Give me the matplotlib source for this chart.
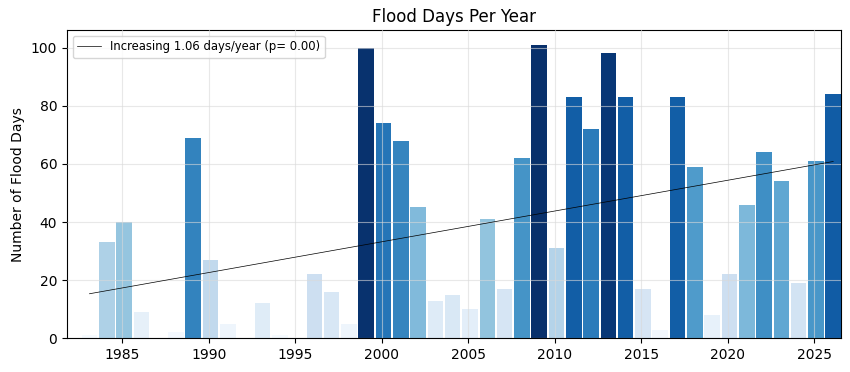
import numpy as np
import matplotlib
matplotlib.use("Agg")
import matplotlib.pyplot as plt

years = list(range(1983, 2027))
flood_days = [1, 33, 40, 9, 0, 2, 69, 27, 5, 0,
              12, 1, 0, 22, 16, 5, 100, 74, 68, 45,
              13, 15, 10, 41, 17, 62, 101, 31, 83, 72,
              98, 83, 17, 3, 83, 59, 8, 22, 46, 64,
              54, 19, 61, 84]
legend_label = "Increasing 1.06 days/year (p= 0.00)"
title = "Flood Days Per Year"
ylabel = "Number of Flood Days"

x = np.array(years, dtype=float) + 0.1
y = np.array(flood_days, dtype=float)

fig = plt.figure(figsize=(8.5, 3.72), dpi=100)
ax = fig.add_axes([67/850, 1 - 338.3/372, (841 - 67)/850, (338.3 - 30)/372])

norm = plt.Normalize(0, y.max())
colors = plt.cm.Blues(norm(y))
ax.bar(x, y, width=0.9, color=colors, zorder=1)

coef = np.polyfit(x, y, 1)
ax.plot(x, np.polyval(coef, x), color="black", linewidth=0.5, label=legend_label, zorder=3)

ax.grid(True, color="#d9d9d9", alpha=0.6, linewidth=0.8, zorder=2)
ax.set_axisbelow(False)
ax.set_xlim(1981.8, 2026.55)
ax.set_ylim(0, 106.05)
ax.set_xticks([1985, 1990, 1995, 2000, 2005, 2010, 2015, 2020, 2025])
ax.set_yticks([0, 20, 40, 60, 80, 100])
ax.tick_params(labelsize=10)
ax.set_title(title, fontsize=12)
ax.set_ylabel(ylabel, fontsize=10)
ax.legend(loc="upper left", fontsize="small")

fig.savefig("out.png", dpi=100)
